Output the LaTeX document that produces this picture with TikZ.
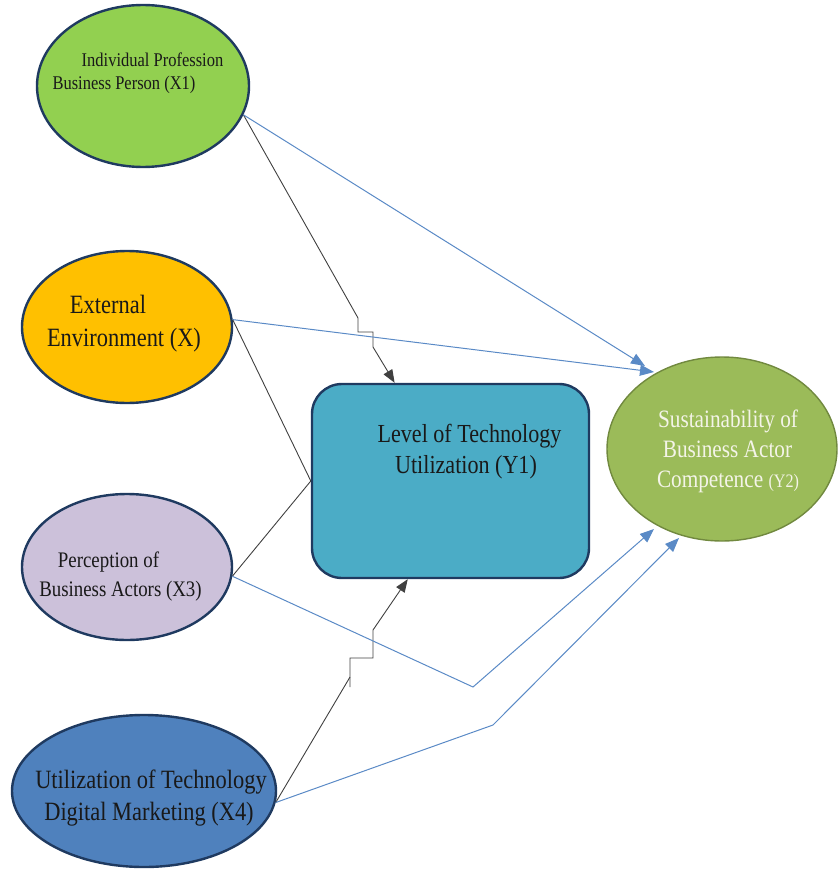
\documentclass[tikz,border=0pt]{standalone}
\usepackage{fontspec}
\setmainfont{Liberation Serif}[FakeStretch=0.85]
\usetikzlibrary{shapes.geometric,arrows.meta,calc}
\definecolor{navy}{HTML}{1F3A60}
\definecolor{cXa}{HTML}{92D050}
\definecolor{cXb}{HTML}{FFC000}
\definecolor{cXc}{HTML}{CCC1DA}
\definecolor{cXd}{HTML}{4F81BD}
\definecolor{cYa}{HTML}{4BACC6}
\definecolor{cYb}{HTML}{9BBB59}
\definecolor{ybedge}{HTML}{71893F}
\definecolor{lblue}{HTML}{5A8AC6}
\definecolor{ltext}{HTML}{F4F4E8}
\tikzset{
  ell/.style={ellipse, draw=navy, line width=2.4pt, inner sep=0pt},
  txt/.style={anchor=base, inner sep=0pt, text=black!90},
  blk/.style={draw=black!75, line width=0.9pt},
  blu/.style={draw=lblue, line width=1pt},
  tipk/.style={-{Triangle[length=13pt,width=10pt]}},
  tipb/.style={-{Triangle[length=14pt,width=11pt,fill=lblue]}}
}
\begin{document}
\begin{tikzpicture}[x=1pt,y=1pt]
\useasboundingbox (0,0) rectangle (839,-869);
% shapes
\node[ell, fill=cXa, minimum width=212pt, minimum height=162pt] (x1) at (143,-86) {};
\node[ell, fill=cXb, minimum width=210pt, minimum height=152pt] (x) at (127,-327) {};
\node[ell, fill=cXc, minimum width=210pt, minimum height=146pt] (x3) at (127,-567) {};
\node[ell, fill=cXd, minimum width=264pt, minimum height=152pt] (x4) at (144,-791) {};
\node[draw=navy, line width=2.4pt, fill=cYa, rounded corners=30pt, minimum width=277pt, minimum height=194pt, inner sep=0pt] (y1) at (450.5,-481) {};
\node[ellipse, draw=ybedge, line width=1.4pt, fill=cYb, minimum width=230pt, minimum height=184pt, inner sep=0pt] (y2) at (722,-449) {};
% texts
\node[txt, font=\fontsize{19.4}{23}\selectfont] (t1a) at (152.5,-67) {Individual Profession};
\node[txt, font=\fontsize{19.4}{23}\selectfont] (t1b) at (124,-90) {Business Person (X1)};
\node[txt, font=\fontsize{26.4}{32}\selectfont] (t2a) at (108,-313) {External};
\node[txt, font=\fontsize{26.4}{32}\selectfont] (t2b) at (124,-346) {Environment (X)};
\node[txt, font=\fontsize{22.2}{28}\selectfont] (t3a) at (108.5,-567) {Perception of};
\node[txt, font=\fontsize{22.2}{28}\selectfont] (t3b) at (120.5,-596) {Business Actors (X3)};
\node[txt, font=\fontsize{26.4}{32}\selectfont] (t4a) at (151,-788) {Utilization of Technology};
\node[txt, font=\fontsize{26.4}{32}\selectfont] (t4b) at (149,-820) {Digital Marketing (X4)};
\node[txt, font=\fontsize{26}{31}\selectfont] (t5a) at (469.5,-442) {Level of Technology};
\node[txt, font=\fontsize{26}{31}\selectfont] (t5b) at (466,-473) {Utilization (Y1)};
\node[txt, text=ltext, font=\fontsize{25}{30}\selectfont] (t6a) at (728,-427) {Sustainability of};
\node[txt, text=ltext, font=\fontsize{25}{30}\selectfont] (t6b) at (727.5,-457) {Business Actor};
\node[txt, text=ltext, font=\fontsize{25}{30}\selectfont] (t6c) at (728,-487) {Competence {\fontsize{19}{22}\selectfont(Y2)}};
% coordinates
\coordinate (a1) at (358,-318);
\coordinate (a2) at (358,-332);
\coordinate (a3) at (373,-332);
\coordinate (a4) at (373,-347);
\coordinate (ya) at ($(y1.north west)!0.3!(y1.north east)$);
\coordinate (c1) at (350,-677);
\coordinate (c0) at (350,-687);
\coordinate (c2) at (350,-658);
\coordinate (c3) at (373,-658);
\coordinate (c4) at (373,-630);
\coordinate (yb) at ($(y1.south west)!0.347!(y1.south east)$);
\coordinate (e1) at (645,-366);
\coordinate (e2) at (654,-372);
\coordinate (e3) at (654,-529);
\coordinate (e4) at (679,-538);
\coordinate (m3) at (473,-687);
\coordinate (m4) at (493,-725);
% black connectors
\draw[blk, tipk] (x1.-16) -- (a1) -- (a2) -- (a3) -- (a4) -- (ya);
\draw[blk] (x.4) -- (y1.west);
\draw[blk] (x3.-5) -- (y1.west);
\draw[blk] (x4.-5) -- (c1);
\draw[blk, tipk] (c0) -- (c2) -- (c3) -- (c4) -- (yb);
% blue connectors
\draw[blu, tipb] (x1.-16) -- (e1);
\draw[blu, tipb] (x.4) -- (e2);
\draw[blu, tipb] (x3.-5) -- (m3) -- (e3);
\draw[blu, tipb] (x4.-5) -- (m4) -- (e4);
\end{tikzpicture}
\end{document}
